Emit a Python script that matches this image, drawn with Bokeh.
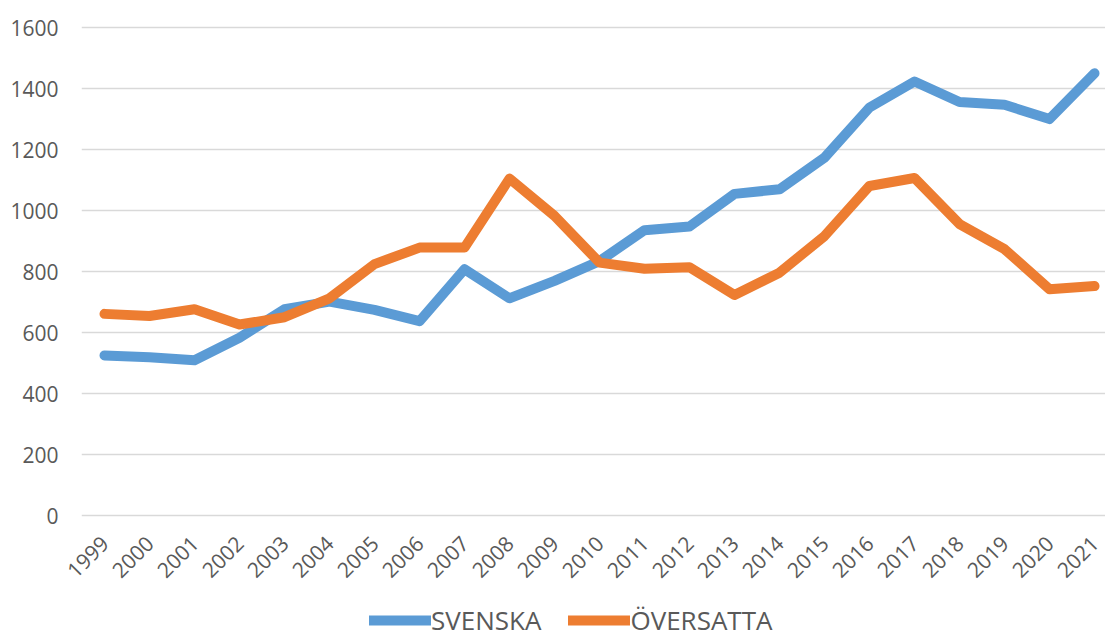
from bokeh.plotting import figure
from bokeh.layouts import column
from bokeh.models import Range1d, FixedTicker, Legend, LegendItem, ColumnDataSource
from bokeh.embed import file_html
from bokeh.resources import INLINE
import math

years = ["1999", "2000", "2001", "2002", "2003", "2004", "2005", "2006", "2007", "2008",
         "2009", "2010", "2011", "2012", "2013", "2014", "2015", "2016", "2017", "2018",
         "2019", "2020", "2021"]
svenska = [526, 520, 510, 584, 677, 702, 675, 638, 808, 713, 770, 835, 936, 948, 1055,
           1070, 1174, 1338, 1423, 1356, 1347, 1300, 1450]
oversatta = [662, 655, 677, 627, 651, 713, 825, 879, 879, 1105, 983, 830, 810, 815, 724,
             797, 917, 1081, 1107, 956, 874, 743, 753]
y_ticks = [0, 200, 400, 600, 800, 1000, 1200, 1400, 1600]
series_names = ["SVENSKA", "ÖVERSATTA"]
colors = ["#5B9BD5", "#ED7D31"]

xs = list(range(len(years)))
src = ColumnDataSource(dict(x=xs, s=svenska, o=oversatta))

# ---- main chart ----
p = figure(width=1105, height=600, output_backend="svg", toolbar_location=None,
           x_range=Range1d(-0.511, 22.244), y_range=Range1d(-5, 1629.5),
           min_border_left=81, min_border_top=18, min_border_right=0, min_border_bottom=83)
p.outline_line_color = None
p.background_fill_color = "white"
p.border_fill_color = "white"

line_kw = dict(line_width=10, line_cap="round", line_join="round")
p.line("x", "s", source=src, line_color=colors[0], **line_kw)
p.line("x", "o", source=src, line_color=colors[1], **line_kw)

p.xgrid.grid_line_color = None
p.ygrid.grid_line_color = "#D9D9D9"
p.ygrid.grid_line_width = 1.5

p.yaxis.ticker = FixedTicker(ticks=y_ticks)
p.yaxis.axis_line_color = None
p.yaxis.major_tick_line_color = None
p.yaxis.minor_tick_line_color = None
p.yaxis.major_tick_out = 0
p.yaxis.major_label_standoff = 23
p.yaxis.major_label_text_font = "Open Sans"
p.yaxis.major_label_text_font_size = "21px"
p.yaxis.major_label_text_color = "#595959"

p.xaxis.ticker = FixedTicker(ticks=xs)
p.xaxis.major_label_overrides = {i: y for i, y in enumerate(years)}
p.xaxis.axis_line_color = None
p.xaxis.major_tick_line_color = None
p.xaxis.minor_tick_line_color = None
p.xaxis.major_tick_out = 0
p.xaxis.major_label_standoff = 22
p.xaxis.major_label_orientation = math.pi / 4
p.xaxis.major_label_text_font = "Open Sans"
p.xaxis.major_label_text_font_size = "21px"
p.xaxis.major_label_text_color = "#595959"

# ---- legend strip (same series, lines kept out of view) ----
lg = figure(width=1105, height=39, output_backend="svg", toolbar_location=None,
            x_range=Range1d(100, 101), y_range=Range1d(0, 1),
            min_border_left=0, min_border_top=0, min_border_right=0, min_border_bottom=0)
lg.axis.visible = False
lg.grid.visible = False
lg.outline_line_color = None
lg.border_fill_color = "white"
l1 = lg.line("x", "s", source=src, line_color=colors[0], **line_kw)
l2 = lg.line("x", "o", source=src, line_color=colors[1], **line_kw)

legend = Legend(items=[LegendItem(label=series_names[0], renderers=[l1]),
                       LegendItem(label=series_names[1], renderers=[l2])],
                orientation="horizontal", location=(288, 1))
legend.label_text_font = "Open Sans"
legend.label_text_font_size = "26px"
legend.label_text_color = "#595959"
legend.glyph_width = 62
legend.glyph_height = 20
legend.label_standoff = 0
legend.spacing = 27
legend.padding = 0
legend.margin = 0
legend.border_line_color = None
legend.background_fill_alpha = 0
lg.add_layout(legend, "center")

open("out.html", "w").write(file_html(column(p, lg, spacing=0), INLINE))
